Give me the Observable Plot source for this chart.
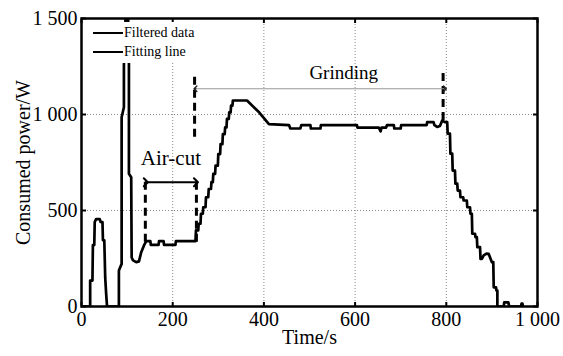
<!DOCTYPE html>
<html><head><meta charset="utf-8">
<script src="https://cdn.jsdelivr.net/npm/d3@7"></script>
<script src="https://cdn.jsdelivr.net/npm/@observablehq/plot@0.6"></script>
<style>
body{margin:0;background:#fff;}
#wrap{position:relative;width:563px;height:356px;}
#wrap svg text{font-family:"Liberation Serif","Times New Roman",serif;}
#wrap svg g[aria-label="grinding"] text{font-family:"Liberation Sans",Arial,sans-serif;}
#legend{position:absolute;left:87px;top:22px;width:112px;height:41px;background:#fff;font-family:"Liberation Serif","Times New Roman",serif;font-size:14px;color:#000;}
#legend .row{position:absolute;left:6px;height:16px;line-height:16px;white-space:nowrap;}
#legend .sw{display:inline-block;width:30px;height:0;border-top:2.5px solid #000;vertical-align:middle;margin-right:1px;position:relative;top:-1px;}
</style></head><body><div id="wrap"></div>
<script>
// Time (s) and power (W)
const time = [0,19,19,24,25,28,29,32,40,42,46,47,50,52,54,56,
  82,82,88,88,93,93,97,102,104,104,109,110,113,120,126,131,137,142,151,152,169,170,180,181,206,207,250,
  251,256,257,261,262,266,267,272,273,278,279,284,285,288,289,293,294,299,300,304,305,309,310,314,315,318,319,323,324,327,328,331,332,363,
  390,411,455,458,480,482,502,503,524,525,604,605,652,656,658,668,670,685,686,700,701,757,758,772,774,780,786,791,797,802,
  803,808,809,813,814,819,820,824,825,830,831,837,838,845,846,852,853,856,857,863,864,867,868,874,875,878,882,888,893,900,903,904,909,910,912,912,926,927,936,938,964,965,967,968];
const power = [0,0,135,135,320,320,440,455,455,440,440,345,345,150,70,0,
  0,187,222,986,1038,1255,1530,1530,1300,691,673,255,240,231,235,283,318,340,340,321,321,340,340,321,321,340,340,
  396,396,431,431,483,483,517,517,569,569,612,612,648,648,691,691,734,734,794,794,846,846,898,898,933,933,977,977,1011,1011,1046,1046,1073,1073,
  1010,950,945,927,927,945,945,927,927,945,945,932,932,912,932,932,945,945,927,927,945,945,960,960,945,935,940,968,960,960,
  900,900,796,796,708,708,640,640,604,604,569,569,552,552,517,517,483,483,379,379,361,361,309,309,248,248,266,275,274,231,231,100,100,83,83,0,0,22,22,0,0,15,15,0];

const xTicks = [0,200,400,600,800,1000];
const yTicks = [0,500,1000,1500];

// annotations
const dashX  = [140, 252, 248, 793];
const dashY1 = [335, 335, 882, 969];
const dashY2 = [673, 673, 1220, 1220];
const airArrowX = [141, 251];
const airArrowY = [647, 647];
const grindArrowX = [250, 797];
const grindArrowY = [1134, 1134];
const airLabel = {text: "Air-cut", x: 196, y: 770};
const grindLabel = {text: "Grinding", x: 575, y: 1219};
const legendItems = ["Filtered data", "Fitting line"];

const series = time.map((t, i) => ({t, p: power[i]}));
const dashes = dashX.map((x, i) => ({x, y1: dashY1[i], y2: dashY2[i]}));
const airArrow = airArrowX.map((x, i) => ({x, y: airArrowY[i]}));
const grindArrow = grindArrowX.map((x, i) => ({x, y: grindArrowY[i]}));
// tiny segments at each end of the grinding arrow, only to orient the dark arrowheads
const headL = [{x: grindArrowX[0] + 0.5, y: grindArrowY[0]}, {x: grindArrowX[0], y: grindArrowY[0]}];
const headR = [{x: grindArrowX[1] - 0.5, y: grindArrowY[1]}, {x: grindArrowX[1], y: grindArrowY[1]}];
const fmt = d => String(d).replace(/\B(?=(\d{3})+$)/g, " ");

const chart = Plot.plot({
  width: 563, height: 356,
  marginLeft: 81, marginRight: 26, marginTop: 18, marginBottom: 50,
  style: {fontSize: "20px", background: "#fff", color: "#000", overflow: "visible"},
  x: {domain: [0, 1000]},
  y: {domain: [0, 1500]},
  marks: [
    Plot.gridX(xTicks.slice(1, -1), {stroke: "#888", strokeOpacity: 1, strokeDasharray: "1,2"}),
    Plot.gridY(yTicks.slice(1, -1), {stroke: "#888", strokeOpacity: 1, strokeDasharray: "1,2"}),
    Plot.line(series, {x: "t", y: "p", stroke: "#000", strokeWidth: 2.7, clip: true}),
    Plot.ruleX(dashes, {x: "x", y1: "y1", y2: "y2", stroke: "#000", strokeWidth: 3, strokeDasharray: "8,5"}),
    Plot.line(airArrow, {x: "x", y: "y", stroke: "#000", strokeWidth: 2, markerStart: "arrow", markerEnd: "arrow"}),
    Plot.line(grindArrow, {x: "x", y: "y", stroke: "#999", strokeWidth: 1.2}),
    Plot.line(headL, {x: "x", y: "y", stroke: "#222", strokeWidth: 1.4, markerEnd: "arrow"}),
    Plot.line(headR, {x: "x", y: "y", stroke: "#222", strokeWidth: 1.4, markerEnd: "arrow"}),
    Plot.text([airLabel], {x: "x", y: "y", text: "text", fontSize: 21, fill: "#000"}),
    Plot.text([grindLabel], {x: "x", y: "y", text: "text", fontSize: 19, fill: "#000", ariaLabel: "grinding"}),
    Plot.axisX({ticks: xTicks, tickFormat: fmt, tickSize: 0, tickPadding: 5, label: null, fontSize: 20}),
    Plot.axisX({ticks: xTicks, anchor: "bottom", tickSize: -4, tickFormat: () => "", label: null, strokeWidth: 2}),
    Plot.axisX({ticks: xTicks, anchor: "top", tickSize: -4, tickFormat: () => "", label: null, strokeWidth: 2}),
    Plot.axisY({ticks: yTicks, tickFormat: fmt, tickSize: 0, tickPadding: 4, label: null, fontSize: 20}),
    Plot.axisY({ticks: yTicks, anchor: "left", tickSize: -5, tickFormat: () => "", label: null, strokeWidth: 2}),
    Plot.axisY({ticks: yTicks, anchor: "right", tickSize: -5, tickFormat: () => "", label: null, strokeWidth: 2}),
    Plot.frame({stroke: "#000", strokeWidth: 2.5}),
    Plot.text(["Time/s"], {frameAnchor: "bottom", dy: 37, fontSize: 20, fill: "#000"}),
    Plot.text(["Consumed power/W"], {frameAnchor: "left", dx: -58, rotate: -90, textAnchor: "middle", fontSize: 20, fill: "#000"})
  ]
});
const wrap = document.getElementById("wrap");
wrap.appendChild(chart);
const lg = document.createElement("div");
lg.id = "legend";
legendItems.forEach((name, i) => {
  const r = document.createElement("div");
  r.className = "row";
  r.style.top = (3 + i * 19) + "px";
  r.innerHTML = '<span class="sw"></span>' + name;
  lg.appendChild(r);
});
wrap.appendChild(lg);
</script></body></html>
